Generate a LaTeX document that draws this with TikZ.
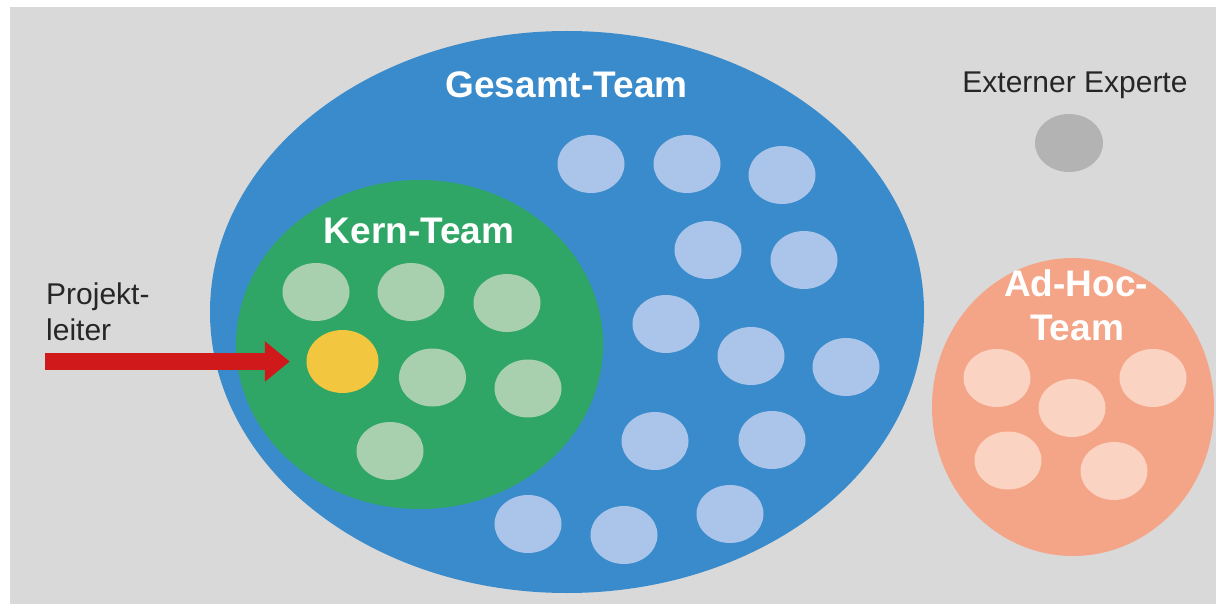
\documentclass[tikz,border=0pt]{standalone}
\usepackage{fontspec}
\setmainfont{Liberation Sans}
\usetikzlibrary{shapes.geometric,arrows.meta}
\definecolor{bgray}{HTML}{D9D9D9}
\definecolor{gblue}{HTML}{398BCB}
\definecolor{kgreen}{HTML}{2FA665}
\definecolor{lblue}{HTML}{ABC4E9}
\definecolor{lgreen}{HTML}{A8CFAE}
\definecolor{pyellow}{HTML}{F3C63F}
\definecolor{salmon}{HTML}{F5A587}
\definecolor{lsalmon}{HTML}{FAD3C2}
\definecolor{egray}{HTML}{B3B3B3}
\definecolor{arrred}{HTML}{D0191A}
\definecolor{dtext}{HTML}{262626}
\tikzset{
  blob/.style={ellipse, inner sep=0pt, draw=none},
  member/.style={blob, minimum width=67pt, minimum height=58pt},
  bigtitle/.style={inner sep=0pt, anchor=base, text=white, font=\fontsize{37}{43}\selectfont\bfseries},
  plaintext/.style={inner sep=0pt, text=dtext, font=\fontsize{30}{36}\selectfont},
  pfeil/.style={draw=arrred, line width=17pt, -{Triangle[length=25pt,width=39pt]}}
}
\begin{document}
\begin{tikzpicture}[x=1pt,y=-1pt]
\useasboundingbox (0,0) rectangle (1216,604);
\fill[bgray] (10,7) rectangle (1216,604);

% Gesamt-Team
\node[blob, fill=gblue, minimum width=714pt, minimum height=562pt] (gesamt) at (567,312) {};
\node[bigtitle] (gesamtlabel) at (566.5,98) {Gesamt-Team};
\foreach \px/\py [count=\i] in {591/164, 687/164, 782/175, 708/250, 804/260, 666/324, 751/356, 846/367, 655/441, 772/440, 528/524, 624/535, 730/514}
  \node[member, fill=lblue] (g\i) at (\px,\py) {};

% Kern-Team
\node[blob, fill=kgreen, minimum width=367pt, minimum height=329pt] (kern) at (419.5,344.5) {};
\node[bigtitle] (kernlabel) at (419,244) {Kern-Team};
\foreach \px/\py [count=\i] in {316/292, 411/292, 507/303, 432.5/377.5, 528/388.5, 390/451}
  \node[member, fill=lgreen] (k\i) at (\px,\py) {};
\node[blob, fill=pyellow, minimum width=72pt, minimum height=63pt] (pl) at (342.5,361.5) {};

% Ad-Hoc-Team
\node[blob, fill=salmon, minimum width=282pt, minimum height=298pt] (adhoc) at (1073,407) {};
\node[bigtitle] (adhoclabelA) at (1076,297) {Ad-Hoc-};
\node[bigtitle] (adhoclabelB) at (1077,340) {Team};
\foreach \px/\py [count=\i] in {997/378, 1072/408, 1153/378, 1008/460.5, 1114/471}
  \node[member, fill=lsalmon] (a\i) at (\px,\py) {};

% Externer Experte
\node[plaintext, anchor=base] (extlabel) at (1075,93) {Externer Experte};
\node[member, fill=egray, minimum width=68pt] (ext) at (1069,143) {};

% Projektleiter
\node[plaintext, anchor=base west] (pllabelA) at (46,304) {Projekt-};
\node[plaintext, anchor=base west] (pllabelB) at (46,340) {leiter};
\coordinate (pstart) at (45,361.5);
\draw[pfeil, shorten >=16.5pt] (pstart) -- (pl.west);
\end{tikzpicture}
\end{document}
